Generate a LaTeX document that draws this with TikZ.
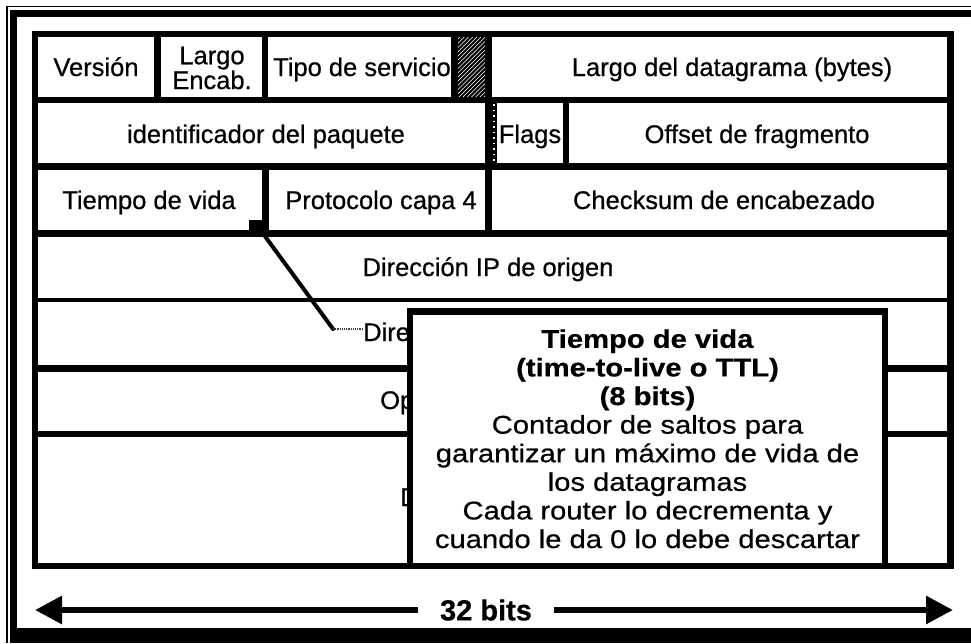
\documentclass[tikz,border=0pt]{standalone}
\usepackage{fontspec}
\setmainfont{Liberation Sans}[FakeBold=0.6]
\newfontfamily\boxfont{Liberation Sans}[FakeStretch=1.14,FakeBold=0.6]
\usetikzlibrary{arrows.meta}
\begin{document}
\begin{tikzpicture}[x=1pt,y=-1pt,
  gridline/.style={line width=6.5pt},
  thinrow/.style={line width=4.5pt},
  lbl/.style={font=\fontsize{25.5}{27}\selectfont, anchor=base, inner sep=0pt},
  lblw/.style={font=\fontsize{25.5}{27}\selectfont, anchor=base west, inner sep=0pt},
  ttlstyle/.style={draw, line width=6.5pt, fill=white, inner sep=0pt, outer sep=0pt,
    minimum width=475pt, minimum height=254.5pt, align=center,
    font=\boxfont\fontsize{25.6}{28.6}\selectfont},
  bitsstyle/.style={font=\bfseries\fontsize{29}{30}\selectfont, inner xsep=22pt, inner ysep=0pt},
  bigarrow/.style={line width=6pt, -{Triangle[length=27pt,width=27pt]}},
  conn/.style={line width=4pt},
  connthin/.style={line width=2pt, black!75, dash pattern=on 1.2pt off 1pt}
]
\useasboundingbox (0,0) rectangle (971,643);
% outer frame
\draw[line width=1.5pt, line join=miter] (7,643) -- (7,6.5) -- (971,6.5);
\draw[line width=7pt, line join=miter] (13.5,643) -- (13.5,13.5) -- (971,13.5);
\fill (10,628) rectangle (971,643);
% table
\draw[gridline] (35,34) rectangle (950.5,566);
\draw[gridline] (35,100) -- (950.5,100);
\draw[gridline] (35,166.5) -- (950.5,166.5);
\draw[gridline] (35,233.5) -- (950.5,233.5);
\draw[thinrow] (35,300) -- (950.5,300);
\draw[gridline] (35,368.5) -- (950.5,368.5);
\draw[gridline] (35,434) -- (950.5,434);
% column dividers
\draw[gridline] (157.5,34) -- (157.5,100);
\draw[gridline] (265,34) -- (265,100);
\draw[gridline] (454.5,34) -- (454.5,100);
\draw[gridline] (488.5,34) -- (488.5,233.5);
\draw[gridline] (566,100) -- (566,166.5);
\draw[gridline] (265.5,166.5) -- (265.5,233.5);
% hatched cell
\begin{scope}
\clip (457.75,37.25) rectangle (485.25,96.75);
\foreach \k in {0,...,24} \draw[line width=2.1pt] (395+\k*4.2,100) -- ++(70,-70);
\end{scope}
% reserved-bit strip
\fill (485.25,103.25) rectangle (497,163.25);
\draw[white, line width=1.3pt, dash pattern=on 1.5pt off 4pt] (494,104) -- (494,163);
% labels
\node[lbl] (ver) at (96,76) {Versión};
\node[align=center, inner sep=0pt, font=\fontsize{25.5}{23}\selectfont] (ihl) at (212,68) {Largo\\Encab.};
\node[lbl] (tos) at (362,76) {Tipo de servicio};
\node[lbl] (tl) at (732,76) {Largo del datagrama (bytes)};
\node[lbl] (id) at (266,143) {identificador del paquete};
\node[lbl] (fl) at (530,143) {Flags};
\node[lbl] (off) at (757,143) {Offset de fragmento};
\node[lbl] (ttl) at (149,209) {Tiempo de vida};
\node[lbl] (prot) at (381,209) {Protocolo capa 4};
\node[lbl] (chk) at (724,209) {Checksum de encabezado};
\node[lbl] (src) at (488,276) {Dirección IP de origen};
\node[lblw] (dst) at (363,341) {Dire};
\node[lblw] (opt) at (380,409) {Op};
\node[lblw] (dat) at (400,506) {D};
% connector
\node[fill=black, minimum size=14pt, inner sep=0pt, outer sep=0pt] (sq) at (256,226.5) {};
\coordinate (bend) at (333,329);
\draw[conn, line cap=round] (sq.south east) -- (bend);
\draw[connthin] (bend) -- (bend -| dst.west);
% popup
\node[ttlstyle] (ttlbox) at (647.5,438.75) {\textbf{Tiempo de vida}\\\textbf{(time-to-live o TTL)}\\\textbf{(8 bits)}\\Contador de saltos para\\garantizar un máximo de vida de\\los datagramas\\Cada router lo decrementa y\\cuando le da 0 lo debe descartar};
% 32 bits arrow
\node[bitsstyle] (bits) at (486,610) {32 bits};
\coordinate (la) at (35,610);
\coordinate (ra) at (953,610);
\draw[bigarrow] (bits.west) -- (la);
\draw[bigarrow] (bits.east) -- (ra);
\end{tikzpicture}
\end{document}
